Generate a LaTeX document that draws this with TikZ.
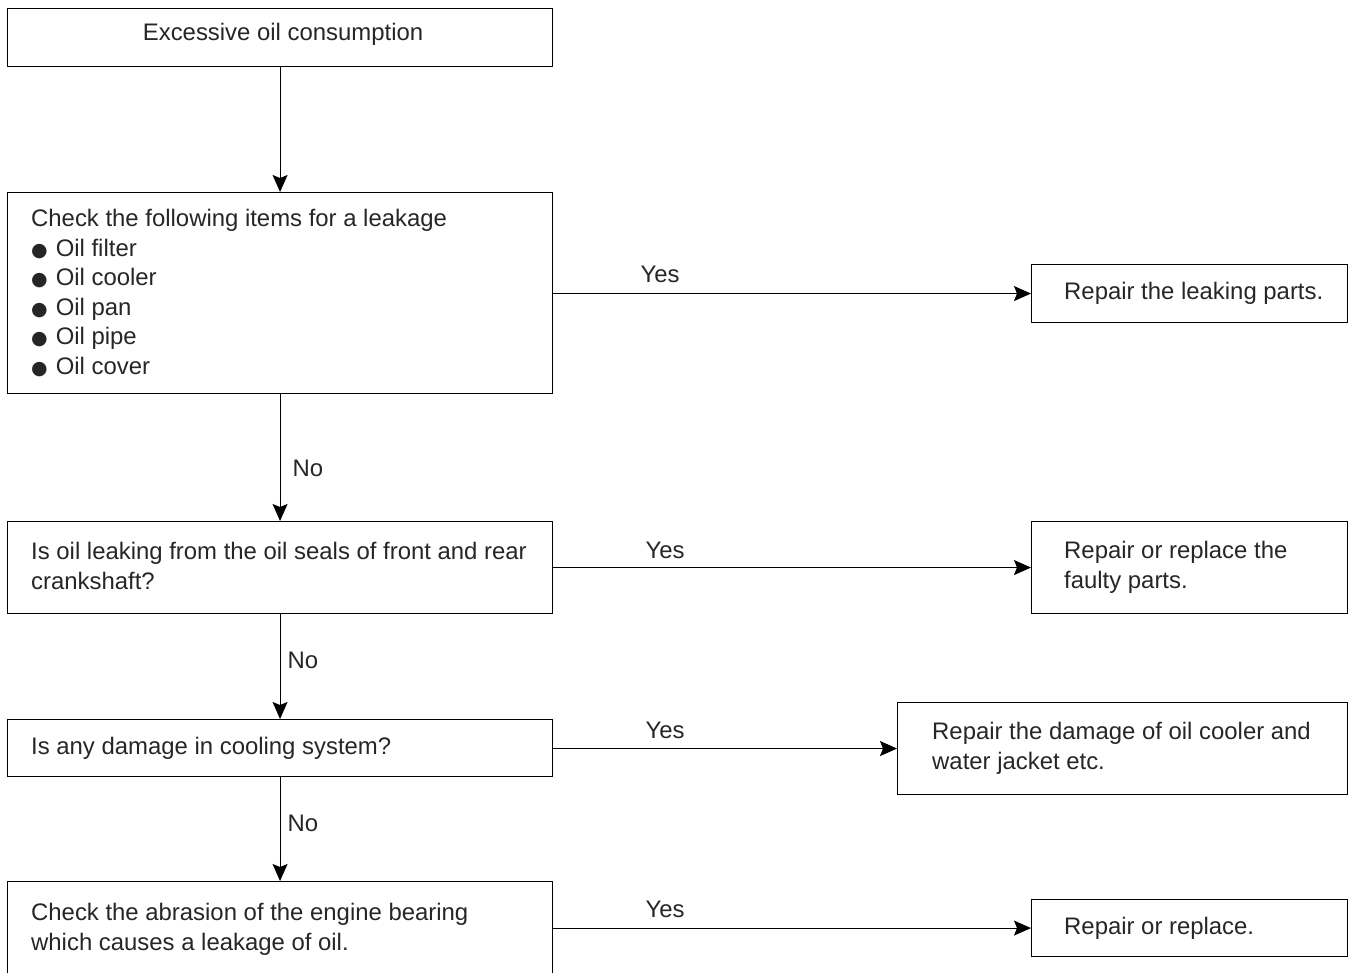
\documentclass[tikz,border=0pt]{standalone}
\usepackage{fontspec}
\setmainfont{Liberation Sans}
\newfontfamily\dejavu{DejaVu Sans}
\usetikzlibrary{arrows.meta}
\newcommand{\blt}{{\dejavu\fontsize{19}{29.5}\selectfont ●}\hspace{8pt}}
\begin{document}
\begin{tikzpicture}[x=1pt,y=-1pt,
  every node/.style={font=\fontsize{23.9}{29.5}\selectfont, text=black!85},
  box/.style={draw, line width=1.1pt, anchor=north west, inner sep=0pt},
  txt/.style={anchor=west, inner sep=0pt, align=left},
  arr/.style={draw, line width=1pt, -{Stealth[length=17pt,width=15pt,inset=3pt]}},
  lab/.style={inner sep=0pt, anchor=base}
]
\useasboundingbox (0,0) rectangle (1349,972);
\node[box, minimum width=545pt, minimum height=58pt] (b1) at (7,8) {};
\node[box, minimum width=545pt, minimum height=201pt] (b2) at (7,192) {};
\node[box, minimum width=545pt, minimum height=92pt] (b3) at (7,521) {};
\node[box, minimum width=545pt, minimum height=57pt] (b4) at (7,719) {};
\node[box, minimum width=545pt, minimum height=94pt] (b5) at (7,881) {};
\node[box, minimum width=316pt, minimum height=58pt] (r1) at (1031,264) {};
\node[box, minimum width=316pt, minimum height=92pt] (r2) at (1031,521) {};
\node[box, minimum width=450pt, minimum height=92pt] (r3) at (897,702) {};
\node[box, minimum width=316pt, minimum height=57pt] (r4) at (1031,899) {};

\node[anchor=center, inner sep=0pt] (t1) at ([xshift=3pt,yshift=3pt]b1.center) {Excessive oil consumption};
\node[txt] (t2) at ([xshift=24pt]b2.west) {Check the following items for a leakage\\
\blt Oil filter\\
\blt Oil cooler\\
\blt Oil pan\\
\blt Oil pipe\\
\blt Oil cover};
\node[txt] (t3) at ([xshift=24pt,yshift=1.5pt]b3.west) {Is oil leaking from the oil seals of front and rear\\crankshaft?};
\node[txt] (t4) at ([xshift=24pt]b4.west) {Is any damage in cooling system?};
\node[txt] (t5) at ([xshift=24pt,yshift=-1pt]b5.west) {Check the abrasion of the engine bearing\\which causes a leakage of oil.};
\node[txt] (s1) at ([xshift=33pt]r1.west) {Repair the leaking parts.};
\node[txt] (s2) at ([xshift=33pt]r2.west) {Repair or replace the\\faulty parts.};
\node[txt] (s3) at ([xshift=35pt]r3.west) {Repair the damage of oil cooler and\\water jacket etc.};
\node[txt] (s4) at ([xshift=33pt]r4.west) {Repair or replace.};

\draw[arr] (b1.south) -- (b2.north);
\draw[arr] (b2.south) -- (b3.north);
\draw[arr] (b3.south) -- (b4.north);
\draw[arr] (b4.south) -- (b5.north);
\draw[arr] (b2.east |- r1.west) -- (r1.west);
\draw[arr] (b3.east |- r2.west) -- (r2.west);
\draw[arr] (b4.east |- r3.west) -- (r3.west);
\draw[arr] (b5.east |- r4.west) -- (r4.west);

\node[lab] (y1) at (660,282) {Yes};
\node[lab] (y2) at (665,558) {Yes};
\node[lab] (y3) at (665,738) {Yes};
\node[lab] (y4) at (665,917) {Yes};
\node[lab] (n1) at (308,476) {No};
\node[lab] (n2) at (303,668) {No};
\node[lab] (n3) at (303,831) {No};
\end{tikzpicture}
\end{document}
